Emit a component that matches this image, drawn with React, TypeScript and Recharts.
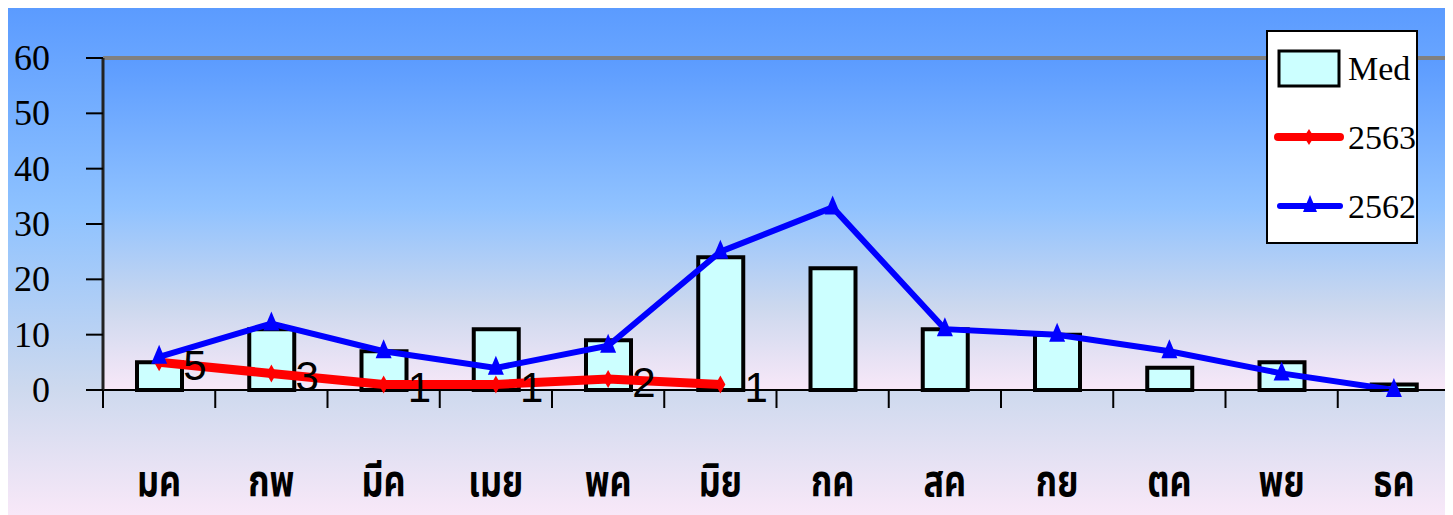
import { ComposedChart, Bar, Line, XAxis, YAxis, CartesianGrid, ReferenceLine, LabelList, Legend } from 'recharts'

const months = ['มค', 'กพ', 'มีค', 'เมย', 'พค', 'มิย', 'กค', 'สค', 'กย', 'ตค', 'พย', 'ธค']
const medValues = [5, 11, 7, 11, 9, 24, 22, 11, 10, 4, 5, 1]
const values2563 = [5, 3, 1, 1, 2, 1]
const values2562 = [6, 12, 7, 4, 8, 25, 33, 11, 10, 7, 3, 0]
const yTicks = [0, 10, 20, 30, 40, 50, 60]
const slotTicks = [0, 1, 2, 3, 4, 5, 6, 7, 8, 9, 10, 11, 12]

const data = months.map((m, i) => ({
  month: m,
  slot: i + 0.5,
  Med: medValues[i],
  '2563': i < values2563.length ? values2563[i] : null,
  '2562': values2562[i],
}))

const serif = '"Liberation Serif", "Times New Roman", serif'
const thai = '"Noto Sans Thai", "Loma", "Garuda", "Norasi", sans-serif'

const Triangle = (props: any) => {
  const { cx, cy } = props
  if (cx == null || cy == null) return null
  return <polygon points={`${cx},${cy - 12} ${cx - 8},${cy + 7} ${cx + 8},${cy + 7}`} fill="#0000FF" />
}

const Diamond = (props: any) => {
  const { cx, cy, value } = props
  if (cx == null || cy == null || value == null) return null
  return <polygon points={`${cx},${cy - 9} ${cx + 5},${cy} ${cx},${cy + 9} ${cx - 5},${cy}`} fill="#FF0000" />
}

const RedLabel = (props: any) => {
  const { x, y, value } = props
  if (value == null) return null
  return (
    <text x={x + 24} y={y + 18} fontSize={42} fontFamily='"Liberation Sans Narrow", "Liberation Sans", Arial, sans-serif' fill="#000">
      {value}
    </text>
  )
}

const MonthTick = (props: any) => {
  const { x, y, payload } = props
  return (
    <text
      transform={`translate(${x},${y + 86}) scale(0.95,1.25)`}
      textAnchor="middle"
      fontSize={36}
      fontWeight="bold"
      fontFamily={thai}
      fill="#000"
    >
      {payload.value}
    </text>
  )
}

const NoTick = () => null

const ValueTick = (props: any) => {
  const { x, y, payload } = props
  return (
    <text x={x} y={y + 12} textAnchor="end" fontSize={36} fontFamily={serif} fill="#000">
      {payload.value}
    </text>
  )
}

const renderLegend = () => (
  <svg width={152} height={214}>
    <rect x={1} y={1} width={150} height={212} fill="#fff" stroke="#000" strokeWidth={2} />
    <rect x={13} y={21} width={60} height={35} fill="#CCFFFF" stroke="#000" strokeWidth={3} />
    <text x={82} y={50} fontSize={34} fontFamily={serif} fill="#000">Med</text>
    <line x1={12} y1={107} x2={74} y2={107} stroke="#FF0000" strokeWidth={8} strokeLinecap="round" />
    <polygon points="43,99 48,107 43,115 38,107" fill="#FF0000" />
    <text x={82} y={119} fontSize={34} fontFamily={serif} fill="#000">2563</text>
    <line x1={14} y1={176} x2={74} y2={176} stroke="#0000FF" strokeWidth={6} strokeLinecap="round" />
    <polygon points="44,165 37,182 51,182" fill="#0000FF" />
    <text x={82} y={188} fontSize={34} fontFamily={serif} fill="#000">2562</text>
  </svg>
)

export default function App() {
  return (
    <div
      style={{
        position: 'relative',
        width: 1445,
        height: 507,
        background: 'linear-gradient(to bottom, #5B9BFF 0%, #8EC2FF 40%, #CDD9EE 75%, #F8E8F8 100%)',
      }}
    >
      <ComposedChart width={1445} height={507} data={data} margin={{ top: 50, right: 3, left: 0, bottom: 0 }}>
        <defs>
          <linearGradient id="plotBg" x1="0" y1="0" x2="0" y2="1">
            <stop offset="0%" stopColor="#5B9BFF" />
            <stop offset="45%" stopColor="#90C2FF" />
            <stop offset="75%" stopColor="#CCD8EE" />
            <stop offset="100%" stopColor="#F8E8F8" />
          </linearGradient>
        </defs>
        <CartesianGrid horizontal={false} vertical={false} fill="url(#plotBg)" xAxisId="month" />
        <XAxis
          xAxisId="edge"
          dataKey="slot"
          type="number"
          domain={[0, 12]}
          ticks={slotTicks}
          allowDataOverflow
          tick={<NoTick />}
          tickSize={18}
          height={18}
          axisLine={{ stroke: '#000', strokeWidth: 2 }}
          tickLine={{ stroke: '#000', strokeWidth: 2 }}
        />
        <XAxis
          xAxisId="month"
          dataKey="month"
          height={107}
          axisLine={false}
          tickLine={false}
          tickSize={0}
          interval={0}
          tick={<MonthTick />}
        />
        <YAxis
          width={95}
          domain={[0, 60]}
          ticks={yTicks}
          tickSize={17}
          tickMargin={36}
          axisLine={{ stroke: '#222', strokeWidth: 3 }}
          tickLine={{ stroke: '#000', strokeWidth: 2 }}
          tick={<ValueTick />}
        />
        <ReferenceLine y={60} xAxisId="month" stroke="#808080" strokeWidth={4} />
        <ReferenceLine x={12} xAxisId="edge" stroke="#808080" strokeWidth={4} />
        <Bar xAxisId="month" dataKey="Med" barSize={45} fill="#CCFFFF" stroke="#000" strokeWidth={4} isAnimationActive={false} />
        <Line
          xAxisId="month"
          dataKey="2563"
          stroke="#FF0000"
          strokeWidth={9}
          dot={<Diamond />}
          activeDot={false}
          connectNulls={false}
          isAnimationActive={false}
        >
          <LabelList dataKey="2563" content={<RedLabel />} />
        </Line>
        <Line
          xAxisId="month"
          dataKey="2562"
          stroke="#0000FF"
          strokeWidth={6}
          dot={<Triangle />}
          activeDot={false}
          isAnimationActive={false}
        />
        <Legend
          layout="horizontal"
          verticalAlign="middle"
          align="center"
          content={renderLegend}
          wrapperStyle={{ position: 'absolute', left: 1258, top: 22, width: 152, height: 214 }}
        />
      </ComposedChart>
    </div>
  )
}
